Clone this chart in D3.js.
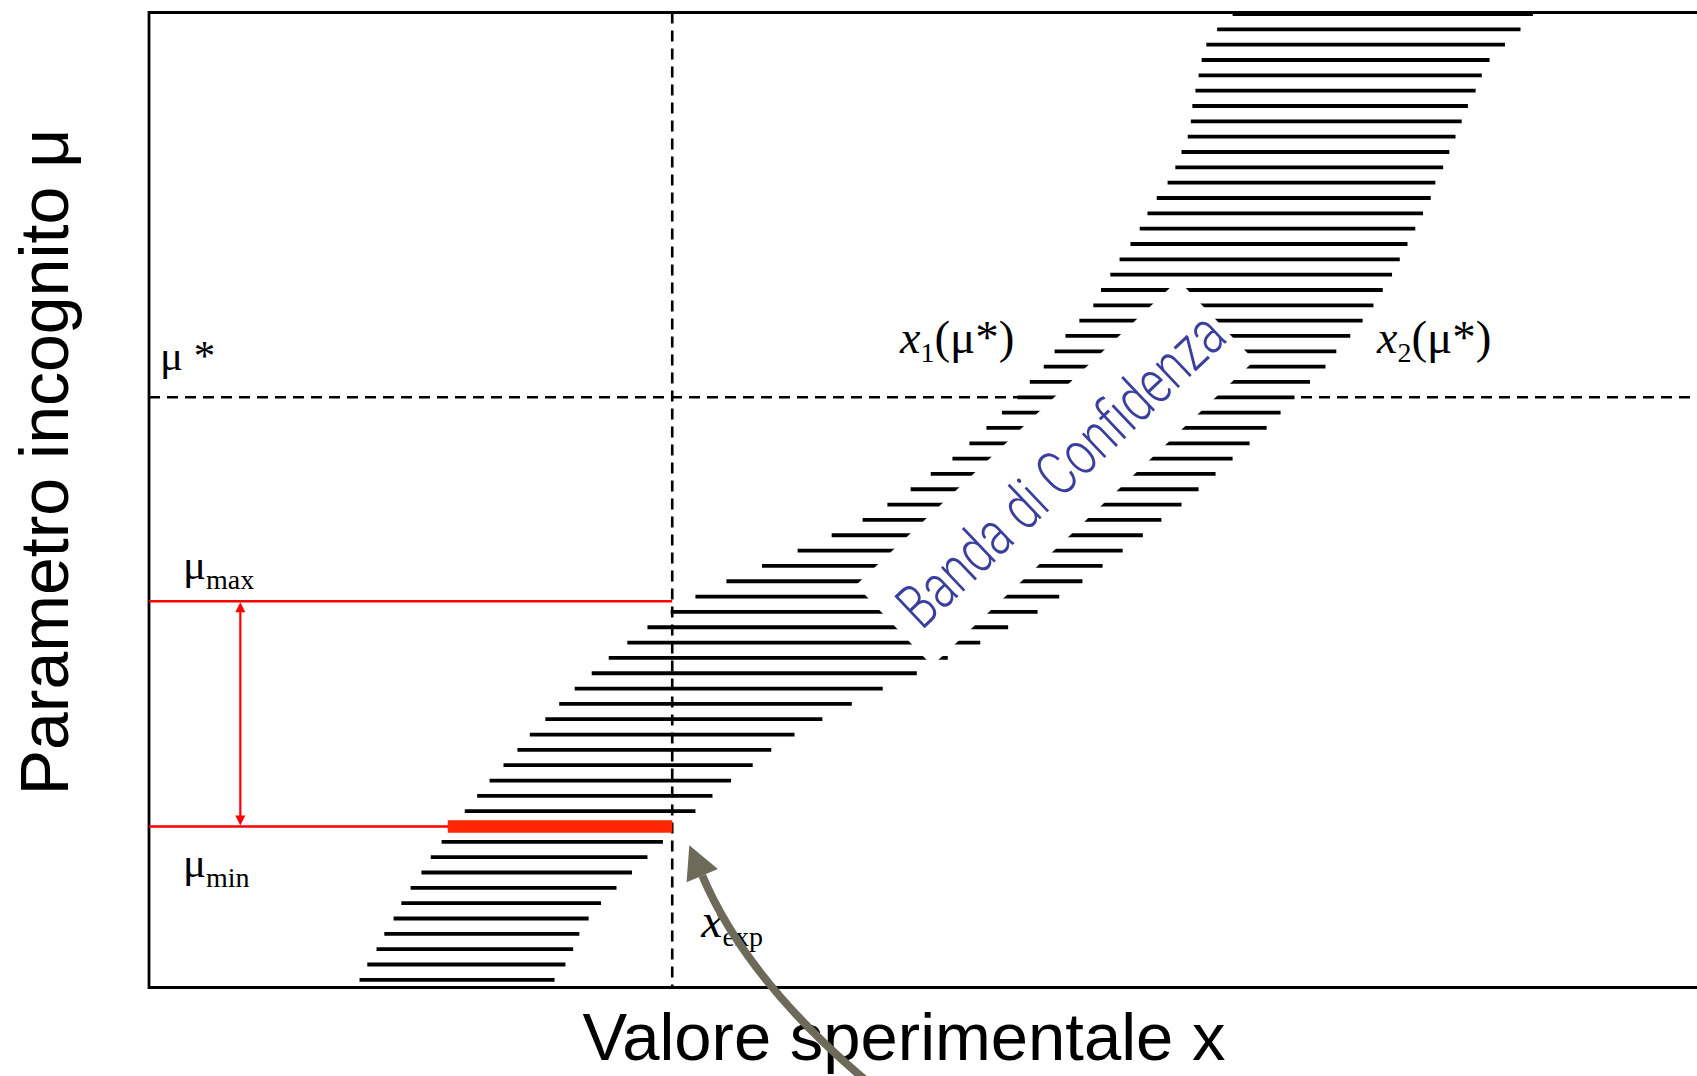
<!DOCTYPE html>
<html>
<head>
<meta charset="utf-8">
<script src="https://cdn.jsdelivr.net/npm/d3@7"></script>
<style>
  html, body { margin: 0; padding: 0; background: #ffffff; }
  svg { display: block; }
</style>
</head>
<body>
<svg id="chart" width="1697" height="1076"></svg>
<script>
// Neyman confidence belt: for each value of the parameter mu, the acceptance
// interval [x1(mu), x2(mu)] of the measured value x, drawn as a horizontal hatch.
const muLevels = [
  63.5, 62.5, 61.5, 60.5, 59.5, 58.5, 57.5, 56.5, 55.5, 54.5,
  53.5, 52.5, 51.5, 50.5, 49.5, 48.5, 47.5, 46.5, 45.5, 44.5,
  43.5, 42.5, 41.5, 40.5, 39.5, 38.5, 37.5, 36.5, 35.5, 34.5,
  33.5, 32.5, 31.5, 30.5, 29.5, 28.5, 27.5, 26.5, 25.5, 24.5,
  23.5, 22.5, 21.5, 20.5, 19.5, 18.5, 17.5, 16.5, 15.5, 14.5,
  13.5, 12.5, 11.5, 10.5, 9.5, 8.5, 7.5, 6.5, 5.5, 4.5,
  3.5, 2.5, 1.5, 0.5
];
const bandX1 = [
  70.0, 69.0, 68.3, 68.0, 67.8, 67.6, 67.4, 67.3, 67.1, 66.7,
  66.3, 65.8, 65.1, 64.5, 64.0, 63.4, 62.7, 62.1, 61.5, 61.0,
  60.1, 59.2, 58.5, 57.8, 56.9, 56.1, 55.1, 54.1, 53.0, 51.9,
  50.5, 49.2, 47.7, 46.1, 44.1, 41.9, 39.6, 37.3, 35.3, 33.7,
  32.2, 30.9, 29.7, 28.6, 27.5, 26.5, 25.6, 24.6, 23.8, 22.9,
  22.0, 21.2, 20.4, 19.3, 18.9, 18.2, 17.6, 16.9, 16.3, 15.8,
  15.2, 14.7, 14.1, 13.6
];
const bandX2 = [
  89.4, 88.6, 87.6, 86.6, 86.1, 85.7, 85.2, 84.8, 84.4, 84.0,
  83.6, 83.1, 82.8, 82.3, 81.8, 81.3, 80.8, 80.3, 79.7, 79.1,
  78.4, 77.6, 76.7, 76.0, 75.0, 74.0, 73.1, 72.2, 71.1, 70.0,
  68.9, 67.8, 66.7, 65.4, 64.2, 62.9, 61.6, 60.3, 58.8, 57.4,
  55.5, 53.7, 51.6, 49.6, 47.4, 45.4, 43.5, 41.7, 40.2, 39.0,
  37.6, 36.4, 35.3, 33.8, 33.2, 32.2, 31.2, 30.2, 29.2, 28.4,
  27.8, 27.4, 26.9, 26.2
];

// Reference values marked on the diagram
const xExp = 33.8;     // measured value
const muStar = 38.5;   // example parameter value
const muMax = 25.2;    // upper limit, x1(muMax) = xExp
const muMin = 10.5;    // lower limit, x2(muMin) = xExp
const arrowX = 5.9;    // position of the vertical interval arrow

const xTitle = "Valore sperimentale x";
const yTitle = "Parametro incognito μ";
const bandLabel = "Banda di Confidenza";

const x = d3.scaleLinear().domain([0, 100]).range([149, 1697]);
const y = d3.scaleLinear().domain([0, 63.6]).range([987.5, 12.5]);

const svg = d3.select("#chart");
const serif = "'Liberation Serif', 'Times New Roman', serif";
const sans = "'Liberation Sans', Arial, Helvetica, sans-serif";

// Plot frame (open on the right, running off the page)
svg.append("path")
  .attr("d", `M${x(100) + 10},${y(63.6)} H${x(0)} V${y(0)} H${x(100) + 10}`)
  .attr("fill", "none")
  .attr("stroke", "#000")
  .attr("stroke-width", 2.8);

// Hatched belt
const rows = muLevels.map((m, i) => ({ mu: m, x1: bandX1[i], x2: bandX2[i] }));
svg.append("g").selectAll("line")
  .data(rows)
  .join("line")
  .attr("x1", d => x(d.x1))
  .attr("x2", d => x(d.x2))
  .attr("y1", d => y(d.mu))
  .attr("y2", d => y(d.mu))
  .attr("stroke", "#000")
  .attr("stroke-width", 3.8);

// Dashed guides: measured value and mu*
const dash = "11,7";
svg.append("line")
  .attr("x1", x(xExp)).attr("x2", x(xExp))
  .attr("y1", y(63.6)).attr("y2", y(0))
  .attr("stroke", "#000").attr("stroke-width", 2.6)
  .attr("stroke-dasharray", dash);
svg.append("line")
  .attr("x1", x(0)).attr("x2", x(100))
  .attr("y1", y(muStar)).attr("y2", y(muStar))
  .attr("stroke", "#000").attr("stroke-width", 2.6)
  .attr("stroke-dasharray", dash);

// Limits mu_max and mu_min
const red = "#ff0000";
[muMax, muMin].forEach(m => {
  svg.append("line")
    .attr("x1", x(0)).attr("x2", x(xExp))
    .attr("y1", y(m)).attr("y2", y(m))
    .attr("stroke", red).attr("stroke-width", 2.4);
});
const rowAtMin = rows.find(r => r.mu === muMin);
svg.append("line")
  .attr("x1", x(rowAtMin.x1)).attr("x2", x(xExp))
  .attr("y1", y(muMin)).attr("y2", y(muMin))
  .attr("stroke", "#ff2600").attr("stroke-width", 12.5);

// Double-headed arrow spanning [mu_min, mu_max]
const ax = x(arrowX), yTop = y(muMax), yBot = y(muMin);
svg.append("line")
  .attr("x1", ax).attr("x2", ax)
  .attr("y1", yTop + 8).attr("y2", yBot - 8)
  .attr("stroke", red).attr("stroke-width", 2.2);
svg.append("path")
  .attr("d", `M${ax},${yTop + 1} L${ax - 5},${yTop + 11} L${ax + 5},${yTop + 11} Z`)
  .attr("fill", red);
svg.append("path")
  .attr("d", `M${ax},${yBot - 1} L${ax - 5},${yBot - 11} L${ax + 5},${yBot - 11} Z`)
  .attr("fill", red);

// Belt label on a white strip
const angle = -43.45;
const lab = svg.append("g")
  .attr("transform", `translate(${x(58.54)},${y(33.57)}) rotate(${angle})`);
lab.append("rect")
  .attr("x", -222).attr("y", -55.5)
  .attr("width", 444).attr("height", 111)
  .attr("fill", "#fff");
lab.append("text")
  .attr("x", -206).attr("y", 23)
  .attr("textLength", 424)
  .attr("lengthAdjust", "spacingAndGlyphs")
  .attr("font-family", "Roboto, 'Open Sans', sans-serif")
  .attr("font-weight", 300)
  .attr("font-size", 62)
  .attr("fill", "#3a3f9e")
  .text(bandLabel);

// Math labels
function mathLabel(px, py, parts) {
  const t = svg.append("text")
    .attr("x", px).attr("y", py)
    .attr("font-family", serif)
    .attr("fill", "#000");
  parts.forEach(p => {
    const s = t.append("tspan").text(p.text).attr("font-size", p.size);
    if (p.italic) s.attr("font-style", "italic");
    if (p.dy) s.attr("dy", p.dy);
  });
  return t;
}

mathLabel(x(0) + 11, y(muStar) - 27, [{ text: "μ *", size: 43 }]);
mathLabel(900, y(muStar) - 44, [
  { text: "x", size: 46, italic: true },
  { text: "1", size: 28, dy: 9 },
  { text: "(μ*)", size: 47, dy: -9 }
]);
mathLabel(1377, y(muStar) - 44, [
  { text: "x", size: 46, italic: true },
  { text: "2", size: 28, dy: 9 },
  { text: "(μ*)", size: 47, dy: -9 }
]);
mathLabel(x(0) + 34, y(muMax) - 22, [
  { text: "μ", size: 43 },
  { text: "max", size: 28, dy: 10 }
]);
mathLabel(x(0) + 34, y(muMin) + 50, [
  { text: "μ", size: 43 },
  { text: "min", size: 28, dy: 10 }
]);
mathLabel(x(xExp) + 29, y(muMin) + 110, [
  { text: "x", size: 48, italic: true },
  { text: "exp", size: 28, dy: 9 }
]);

// Axis titles
svg.append("text")
  .attr("transform", `translate(68,${(y(0) + y(63.6)) / 2 - 38}) rotate(-90)`)
  .attr("text-anchor", "middle")
  .attr("font-family", sans)
  .attr("font-size", 68)
  .attr("fill", "#000")
  .text(yTitle);
svg.append("text")
  .attr("x", 904).attr("y", 1060)
  .attr("text-anchor", "middle")
  .attr("font-family", sans)
  .attr("font-size", 67)
  .attr("fill", "#000")
  .text(xTitle);

// Curved pointer to the measured value
const tipBase = [x(xExp) + 30, y(muMin) + 49];
const start = [870, 1084];
const ctrl = [747, 981];
svg.append("path")
  .attr("d", `M${start[0]},${start[1]} Q${ctrl[0]},${ctrl[1]} ${tipBase[0]},${tipBase[1]}`)
  .attr("fill", "none")
  .attr("stroke", "#6e6a5a")
  .attr("stroke-width", 8);
{
  const dx = tipBase[0] - ctrl[0], dy = tipBase[1] - ctrl[1];
  const len = Math.hypot(dx, dy);
  const ux = dx / len, uy = dy / len;
  const tip = [tipBase[0] + 33 * ux, tipBase[1] + 33 * uy];
  const c1 = [tipBase[0] - 17 * uy, tipBase[1] + 17 * ux];
  const c2 = [tipBase[0] + 17 * uy, tipBase[1] - 17 * ux];
  svg.append("path")
    .attr("d", `M${tip} L${c1} L${c2} Z`)
    .attr("fill", "#6e6a5a");
}
</script>
</body>
</html>
